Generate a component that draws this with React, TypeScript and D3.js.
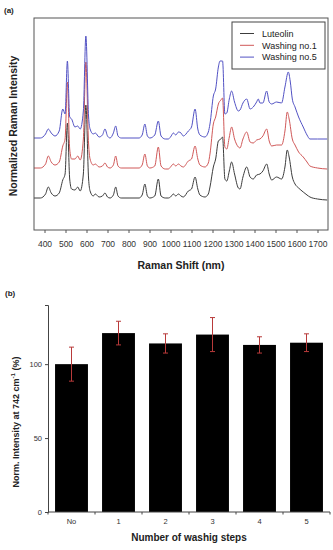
import React, { useRef, useEffect } from 'react';
import * as d3 from 'd3';

// Raman spectra, [shift, intensity (a.u., stacked)]
const luteolin: [number, number][] = [
  [350, 32], [380, 32], [405, 36], [418, 43], [432, 37], [450, 34], [470, 37], [487, 50], [498, 56],
  [509, 107], [520, 51], [529, 41], [545, 40], [558, 43], [570, 39], [585, 56], [597, 125], [610, 51],
  [617, 39], [632, 34], [642, 36], [660, 33], [676, 34], [688, 37], [700, 33], [712, 32], [728, 35],
  [739, 43], [750, 34], [765, 32], [807, 32], [850, 32], [865, 35], [878, 46], [890, 34], [902, 32],
  [925, 34], [942, 51], [955, 34], [975, 32], [990, 32], [1000, 33], [1014, 36], [1025, 34], [1038, 36],
  [1050, 34], [1061, 33], [1085, 39], [1100, 41], [1117, 53], [1130, 41], [1140, 35], [1164, 33],
  [1180, 36], [1188, 43], [1204, 63], [1215, 71], [1228, 89], [1240, 91], [1248, 93], [1259, 51],
  [1268, 49], [1280, 59], [1291, 68], [1305, 56], [1323, 42], [1331, 41], [1345, 53], [1363, 63],
  [1379, 53], [1394, 51], [1410, 55], [1426, 56], [1440, 59], [1458, 66], [1470, 56], [1482, 50],
  [1505, 53], [1529, 51], [1545, 63], [1556, 80], [1565, 73], [1580, 53], [1593, 46], [1610, 42],
  [1632, 38], [1650, 35], [1664, 33], [1700, 31], [1746, 30],
];

const washing1: [number, number][] = [
  [350, 62], [380, 62], [405, 66], [418, 74], [432, 68], [450, 65], [470, 68], [487, 84], [498, 91],
  [509, 148], [520, 81], [529, 71], [545, 71], [558, 74], [570, 70], [585, 91], [597, 168], [610, 86],
  [617, 71], [632, 65], [642, 66], [660, 63], [676, 64], [688, 67], [700, 63], [712, 62], [728, 65],
  [739, 74], [750, 64], [765, 62], [807, 62], [850, 62], [865, 65], [878, 76], [890, 64], [902, 62],
  [925, 64], [942, 83], [955, 64], [975, 61], [990, 61], [1000, 63], [1014, 66], [1025, 64], [1038, 66],
  [1050, 64], [1061, 63], [1085, 69], [1100, 71], [1117, 84], [1130, 71], [1140, 65], [1164, 63],
  [1180, 67], [1188, 76], [1204, 106], [1215, 113], [1228, 126], [1240, 130], [1248, 132], [1259, 83],
  [1268, 81], [1280, 93], [1291, 103], [1305, 91], [1323, 83], [1331, 82], [1345, 91], [1363, 98],
  [1379, 88], [1394, 87], [1410, 90], [1426, 91], [1440, 94], [1458, 101], [1470, 89], [1482, 84],
  [1505, 85], [1529, 85], [1545, 99], [1556, 118], [1565, 111], [1580, 91], [1593, 85], [1610, 78],
  [1632, 73], [1650, 68], [1664, 64], [1700, 62], [1746, 61],
];

const washing5: [number, number][] = [
  [350, 92], [380, 92], [405, 96], [418, 101], [432, 97], [450, 94], [470, 99], [487, 121], [498, 116],
  [509, 169], [520, 113], [529, 111], [545, 103], [558, 104], [570, 101], [585, 119], [597, 194],
  [610, 113], [617, 101], [632, 96], [642, 97], [660, 93], [676, 95], [688, 101], [700, 94], [712, 92],
  [728, 97], [739, 104], [750, 94], [765, 92], [807, 92], [850, 92], [865, 95], [878, 106], [890, 94],
  [902, 92], [925, 95], [942, 109], [955, 94], [975, 91], [990, 91], [1000, 93], [1014, 97], [1025, 95],
  [1038, 98], [1050, 97], [1061, 94], [1085, 99], [1100, 103], [1117, 121], [1130, 101], [1140, 95],
  [1164, 93], [1180, 98], [1188, 106], [1204, 134], [1215, 141], [1228, 163], [1236, 169], [1248, 169],
  [1259, 116], [1268, 117], [1280, 131], [1291, 139], [1305, 128], [1323, 119], [1331, 120], [1345, 127],
  [1363, 131], [1379, 121], [1394, 123], [1410, 128], [1418, 131], [1426, 127], [1440, 127], [1458, 139],
  [1470, 128], [1482, 126], [1505, 128], [1529, 127], [1545, 143], [1561, 158], [1570, 149], [1580, 131],
  [1593, 123], [1610, 113], [1632, 103], [1650, 95], [1664, 91], [1700, 91], [1746, 91],
];

const seriesNames = ['Luteolin', 'Washing no.1', 'Washing no.5'];
const seriesColors = ['#3c3c3c', '#d05858', '#5252c4'];
const shiftTicks = [400, 500, 600, 700, 800, 900, 1000, 1100, 1200, 1300, 1400, 1500, 1600, 1700];

// Bar chart (b)
const steps = ['No', '1', '2', '3', '4', '5'];
const normIntensity = [100, 121, 114, 120, 113, 114.5];
const intensityErr = [11.5, 8, 6.5, 11.5, 5.5, 6];

const FONT = "'Liberation Sans', Arial, sans-serif";

const App = () => {
  const ref = useRef<SVGSVGElement>(null);

  useEffect(() => {
    const svg = d3.select(ref.current);
    svg.selectAll('*').remove();
    svg.style('font-family', FONT);

    // ---------- panel (a) ----------
    const a = { left: 34, right: 328, top: 18, bottom: 230 };
    const x = d3.scaleLinear().domain([350, 1750]).range([a.left, a.right]);
    const y = d3.scaleLinear().domain([0, 212]).range([a.bottom, a.top]);

    svg.append('text').attr('x', 4).attr('y', 13).text('(a)')
      .attr('font-size', 8).attr('font-weight', 'bold').attr('fill', '#222');

    const line = d3.line<[number, number]>()
      .x(d => x(d[0]))
      .y(d => y(d[1]))
      .curve(d3.curveMonotoneX);

    [luteolin, washing1, washing5].forEach((s, i) => {
      svg.append('path').datum(s)
        .attr('d', line)
        .attr('fill', 'none')
        .attr('stroke', seriesColors[i])
        .attr('stroke-width', 1);
    });

    svg.append('rect')
      .attr('x', a.left).attr('y', a.top)
      .attr('width', a.right - a.left).attr('height', a.bottom - a.top)
      .attr('fill', 'none').attr('stroke', '#555').attr('stroke-width', 1);

    const gx = svg.append('g').attr('transform', `translate(0, ${a.bottom})`);
    gx.call(d3.axisBottom(x).tickValues(d3.range(360, 1750, 20)).tickSize(2).tickFormat(() => ''));
    gx.call(d3.axisBottom(x).tickValues(shiftTicks).tickSize(3).tickPadding(8).tickFormat(d3.format('d')));
    gx.selectAll('.domain').remove();
    gx.selectAll('line').attr('stroke', '#555');
    gx.selectAll('text').attr('font-size', 8.5).attr('fill', '#333').attr('font-family', FONT);

    svg.append('text')
      .attr('x', (a.left + a.right) / 2).attr('y', 269)
      .attr('text-anchor', 'middle').attr('font-size', 10.5).attr('font-weight', 'bold')
      .attr('fill', '#222').text('Raman Shift (nm)');

    svg.append('text')
      .attr('transform', `translate(17, ${(a.top + a.bottom) / 2 + 2}) rotate(-90)`)
      .attr('text-anchor', 'middle').attr('font-size', 10.5).attr('font-weight', 'bold')
      .attr('fill', '#222').text('Normalized Raman Intensity');

    // legend
    const lg = svg.append('g').attr('transform', 'translate(232, 22)');
    lg.append('rect').attr('width', 93).attr('height', 47)
      .attr('fill', '#fff').attr('stroke', '#444').attr('stroke-width', 1);
    seriesNames.forEach((name, i) => {
      const yy = 11.5 + i * 11.8;
      lg.append('line').attr('x1', 8).attr('x2', 22).attr('y1', yy).attr('y2', yy)
        .attr('stroke', seriesColors[i]).attr('stroke-width', 1);
      lg.append('text').attr('x', 30).attr('y', yy + 3.3).text(name)
        .attr('font-size', 9).attr('fill', '#222');
    });

    // ---------- panel (b) ----------
    const b = { left: 48, right: 330, top: 305, bottom: 512 };
    const xb = d3.scaleBand().domain(steps).range([b.left, b.right])
      .paddingInner(0.3).paddingOuter(0.15);
    const yb = d3.scaleLinear().domain([0, 140]).range([b.bottom, b.top]);

    svg.append('text').attr('x', 5).attr('y', 296).text('(b)')
      .attr('font-size', 8).attr('font-weight', 'bold').attr('fill', '#222');

    svg.append('g').selectAll('rect')
      .data(steps)
      .enter()
      .append('rect')
      .attr('x', d => xb(d)!)
      .attr('y', (d, i) => yb(normIntensity[i]))
      .attr('width', xb.bandwidth())
      .attr('height', (d, i) => yb(0) - yb(normIntensity[i]))
      .attr('fill', '#000');

    const eg = svg.append('g').attr('stroke', '#b83a3a').attr('stroke-width', 1);
    steps.forEach((s, i) => {
      const cx = xb(s)! + xb.bandwidth() / 2;
      const hi = yb(normIntensity[i] + intensityErr[i]);
      const lo = yb(normIntensity[i] - intensityErr[i]);
      eg.append('line').attr('x1', cx).attr('x2', cx).attr('y1', hi).attr('y2', lo);
      eg.append('line').attr('x1', cx - 2.5).attr('x2', cx + 2.5).attr('y1', hi).attr('y2', hi);
      eg.append('line').attr('x1', cx - 2.5).attr('x2', cx + 2.5).attr('y1', lo).attr('y2', lo);
    });

    const gy = svg.append('g').attr('transform', `translate(${b.left}, 0)`);
    gy.call(d3.axisLeft(yb).tickValues([25, 75, 125]).tickSize(2).tickFormat(() => ''));
    gy.call(d3.axisLeft(yb).tickValues([0, 50, 100]).tickSize(3).tickPadding(3));
    gy.selectAll('.domain').attr('stroke', '#444');
    gy.selectAll('line').attr('stroke', '#444');
    gy.selectAll('text').attr('font-size', 7.5).attr('fill', '#333').attr('font-family', FONT);

    const gxb = svg.append('g').attr('transform', `translate(0, ${b.bottom})`);
    gxb.append('line').attr('x1', b.left).attr('x2', b.right).attr('stroke', '#444');
    d3.range(steps.length + 1).forEach(i => {
      const bx = b.left + i * xb.step();
      gxb.append('line').attr('x1', bx).attr('x2', bx).attr('y1', 0).attr('y2', 2.5).attr('stroke', '#444');
    });
    gxb.call(d3.axisBottom(xb).tickSize(0).tickPadding(7));
    gxb.selectAll('.domain').remove();
    gxb.selectAll('text').attr('font-size', 7.5).attr('fill', '#333').attr('font-family', FONT);

    svg.append('text')
      .attr('x', 189).attr('y', 541)
      .attr('text-anchor', 'middle').attr('font-size', 10).attr('font-weight', 'bold')
      .attr('fill', '#222').text('Number of washig steps');

    const yl = svg.append('text')
      .attr('transform', `translate(19, 422) rotate(-90)`)
      .attr('text-anchor', 'middle').attr('font-size', 9).attr('font-weight', 'bold')
      .attr('fill', '#222');
    yl.append('tspan').text('Norm. Intensity at 742 cm');
    yl.append('tspan').text('-1').attr('font-size', 6).attr('dy', -4);
    yl.append('tspan').text(' (%)').attr('dy', 4);
  }, []);

  return (
    <svg ref={ref} width={333} height={550}
      style={{ position: 'absolute', left: 0, top: 0, background: '#fff' }} />
  );
};

export default App;
